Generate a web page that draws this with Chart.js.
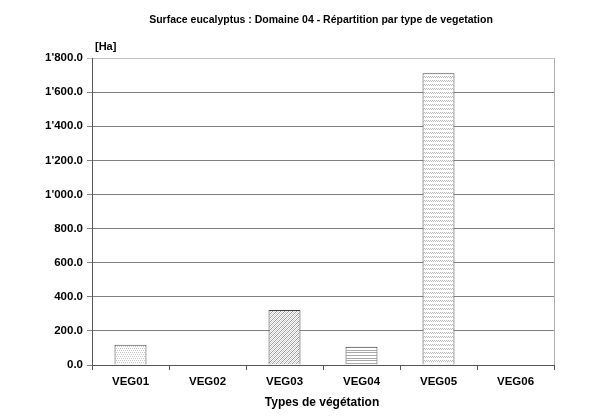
<!DOCTYPE html>
<html>
<head>
<meta charset="utf-8">
<script src="https://cdn.jsdelivr.net/npm/chart.js@4"></script>
<style>
html,body{margin:0;padding:0;background:#fff;}
#wrap{width:600px;height:416px;}
</style>
</head>
<body>
<div id="wrap"><canvas id="c" width="600" height="416"></canvas></div>
<script>
const categories = ['VEG01','VEG02','VEG03','VEG04','VEG05','VEG06'];
const surfaceHa = [118, 0, 322, 107, 1710, 0];
const chartTitle = 'Surface eucalyptus : Domaine 04 - Répartition par type de vegetation';
const unitLabel = '[Ha]';
const xTitle = 'Types de végétation';

function makePattern(kind){
  const s = document.createElement('canvas');
  s.width = 8; s.height = 8;
  const g = s.getContext('2d');
  g.fillStyle = '#ffffff'; g.fillRect(0,0,8,8);
  if(kind === 'dots'){
    g.fillStyle = '#c8c8c8';
    for(let y=0;y<8;y+=2) for(let x=(y%4===0?0:1);x<8;x+=2) g.fillRect(x,y,1,1);
  } else if(kind === 'diag'){
    for(let i=0;i<8;i++){
      g.fillStyle='#9a9a9a'; g.fillRect(i%8, 7-i, 1, 1); g.fillRect((i+4)%8, 7-i, 1, 1);
      g.fillStyle='#d4d4d4'; g.fillRect((i+2)%8, 7-i, 1, 1); g.fillRect((i+6)%8, 7-i, 1, 1);
    }
  } else if(kind === 'hlines'){
    g.fillStyle='#a8a8a8';
    g.fillRect(0,0,8,1); g.fillRect(0,3,8,1); g.fillRect(0,6,8,1);
  } else if(kind === 'wave'){
    g.fillStyle='#b8b8b8';
    for(let x=0;x<8;x++){ g.fillRect(x, (x%2===0)?0:1, 1, 1); g.fillRect(x, (x%2===0)?4:5, 1, 1); }
  }
  return g.createPattern(s,'repeat');
}
const fills = [makePattern('dots'), '#ffffff', makePattern('diag'), makePattern('hlines'), makePattern('wave'), '#ffffff'];

function fmt(v){
  const s = v.toFixed(1);
  const [i,d] = s.split('.');
  return i.replace(/\B(?=(\d{3})+(?!\d))/g, "'") + '.' + d;
}

const FONT = '"Liberation Sans", Arial, sans-serif';

const textPlugin = {
  id: 'texts',
  afterDraw(chart){
    const ctx = chart.ctx;
    ctx.save();
    ctx.fillStyle = '#000';
    ctx.textBaseline = 'middle';
    ctx.textAlign = 'center';
    ctx.font = 'bold 10.5px ' + FONT;
    ctx.fillText(chartTitle, 321, 20);
    ctx.font = 'bold 12px ' + FONT;
    ctx.fillText(xTitle, 322, 403);
    ctx.textAlign = 'left';
    ctx.font = 'bold 11px ' + FONT;
    ctx.fillText(unitLabel, 95, 47);
    ctx.restore();
  }
};

new Chart(document.getElementById('c'), {
  type: 'bar',
  data: {
    labels: categories,
    datasets: [{
      data: surfaceHa,
      backgroundColor: fills,
      borderColor: '#444444',
      borderWidth: 1,
      barPercentage: 0.83,
      categoryPercentage: 0.5
    }]
  },
  options: {
    responsive: false,
    animation: false,
    devicePixelRatio: 1,
    layout: { padding: { top: 58, right: 46, bottom: 0, left: 0 } },
    plugins: { legend: { display: false }, tooltip: { enabled: false }, title: { display: false } },
    scales: {
      x: {
        grid: { display: true, drawOnChartArea: false, offset: true, color: '#555', tickLength: 5 },
        border: { color: '#555', width: 1 },
        ticks: { color: '#000', font: { family: FONT, size: 11.5, weight: 'bold' }, padding: 5, maxRotation: 0 },
        afterFit(scale){ scale.height = 51; }
      },
      y: {
        min: 0, max: 1800,
        ticks: { stepSize: 200, color: '#000', font: { family: FONT, size: 11.5, weight: 'bold' }, padding: 4, callback: v => fmt(v) },
        grid: { color: ctx => ctx.tick && ctx.tick.value === 1800 ? '#c0c0c0' : '#808080', tickLength: 5, drawTicks: true },
        border: { color: '#555', width: 1 },
        afterFit(scale){ scale.width = 92; }
      }
    }
  },
  plugins: [textPlugin, {
    id: 'rightBorder',
    afterDatasetsDraw(chart){
      const a = chart.chartArea, ctx = chart.ctx;
      ctx.save(); ctx.strokeStyle = '#b0b0b0'; ctx.lineWidth = 1;
      ctx.beginPath(); ctx.moveTo(a.right + 0.5, a.top); ctx.lineTo(a.right + 0.5, a.bottom); ctx.stroke();
      ctx.restore();
    }
  }]
});
</script>
</body>
</html>
